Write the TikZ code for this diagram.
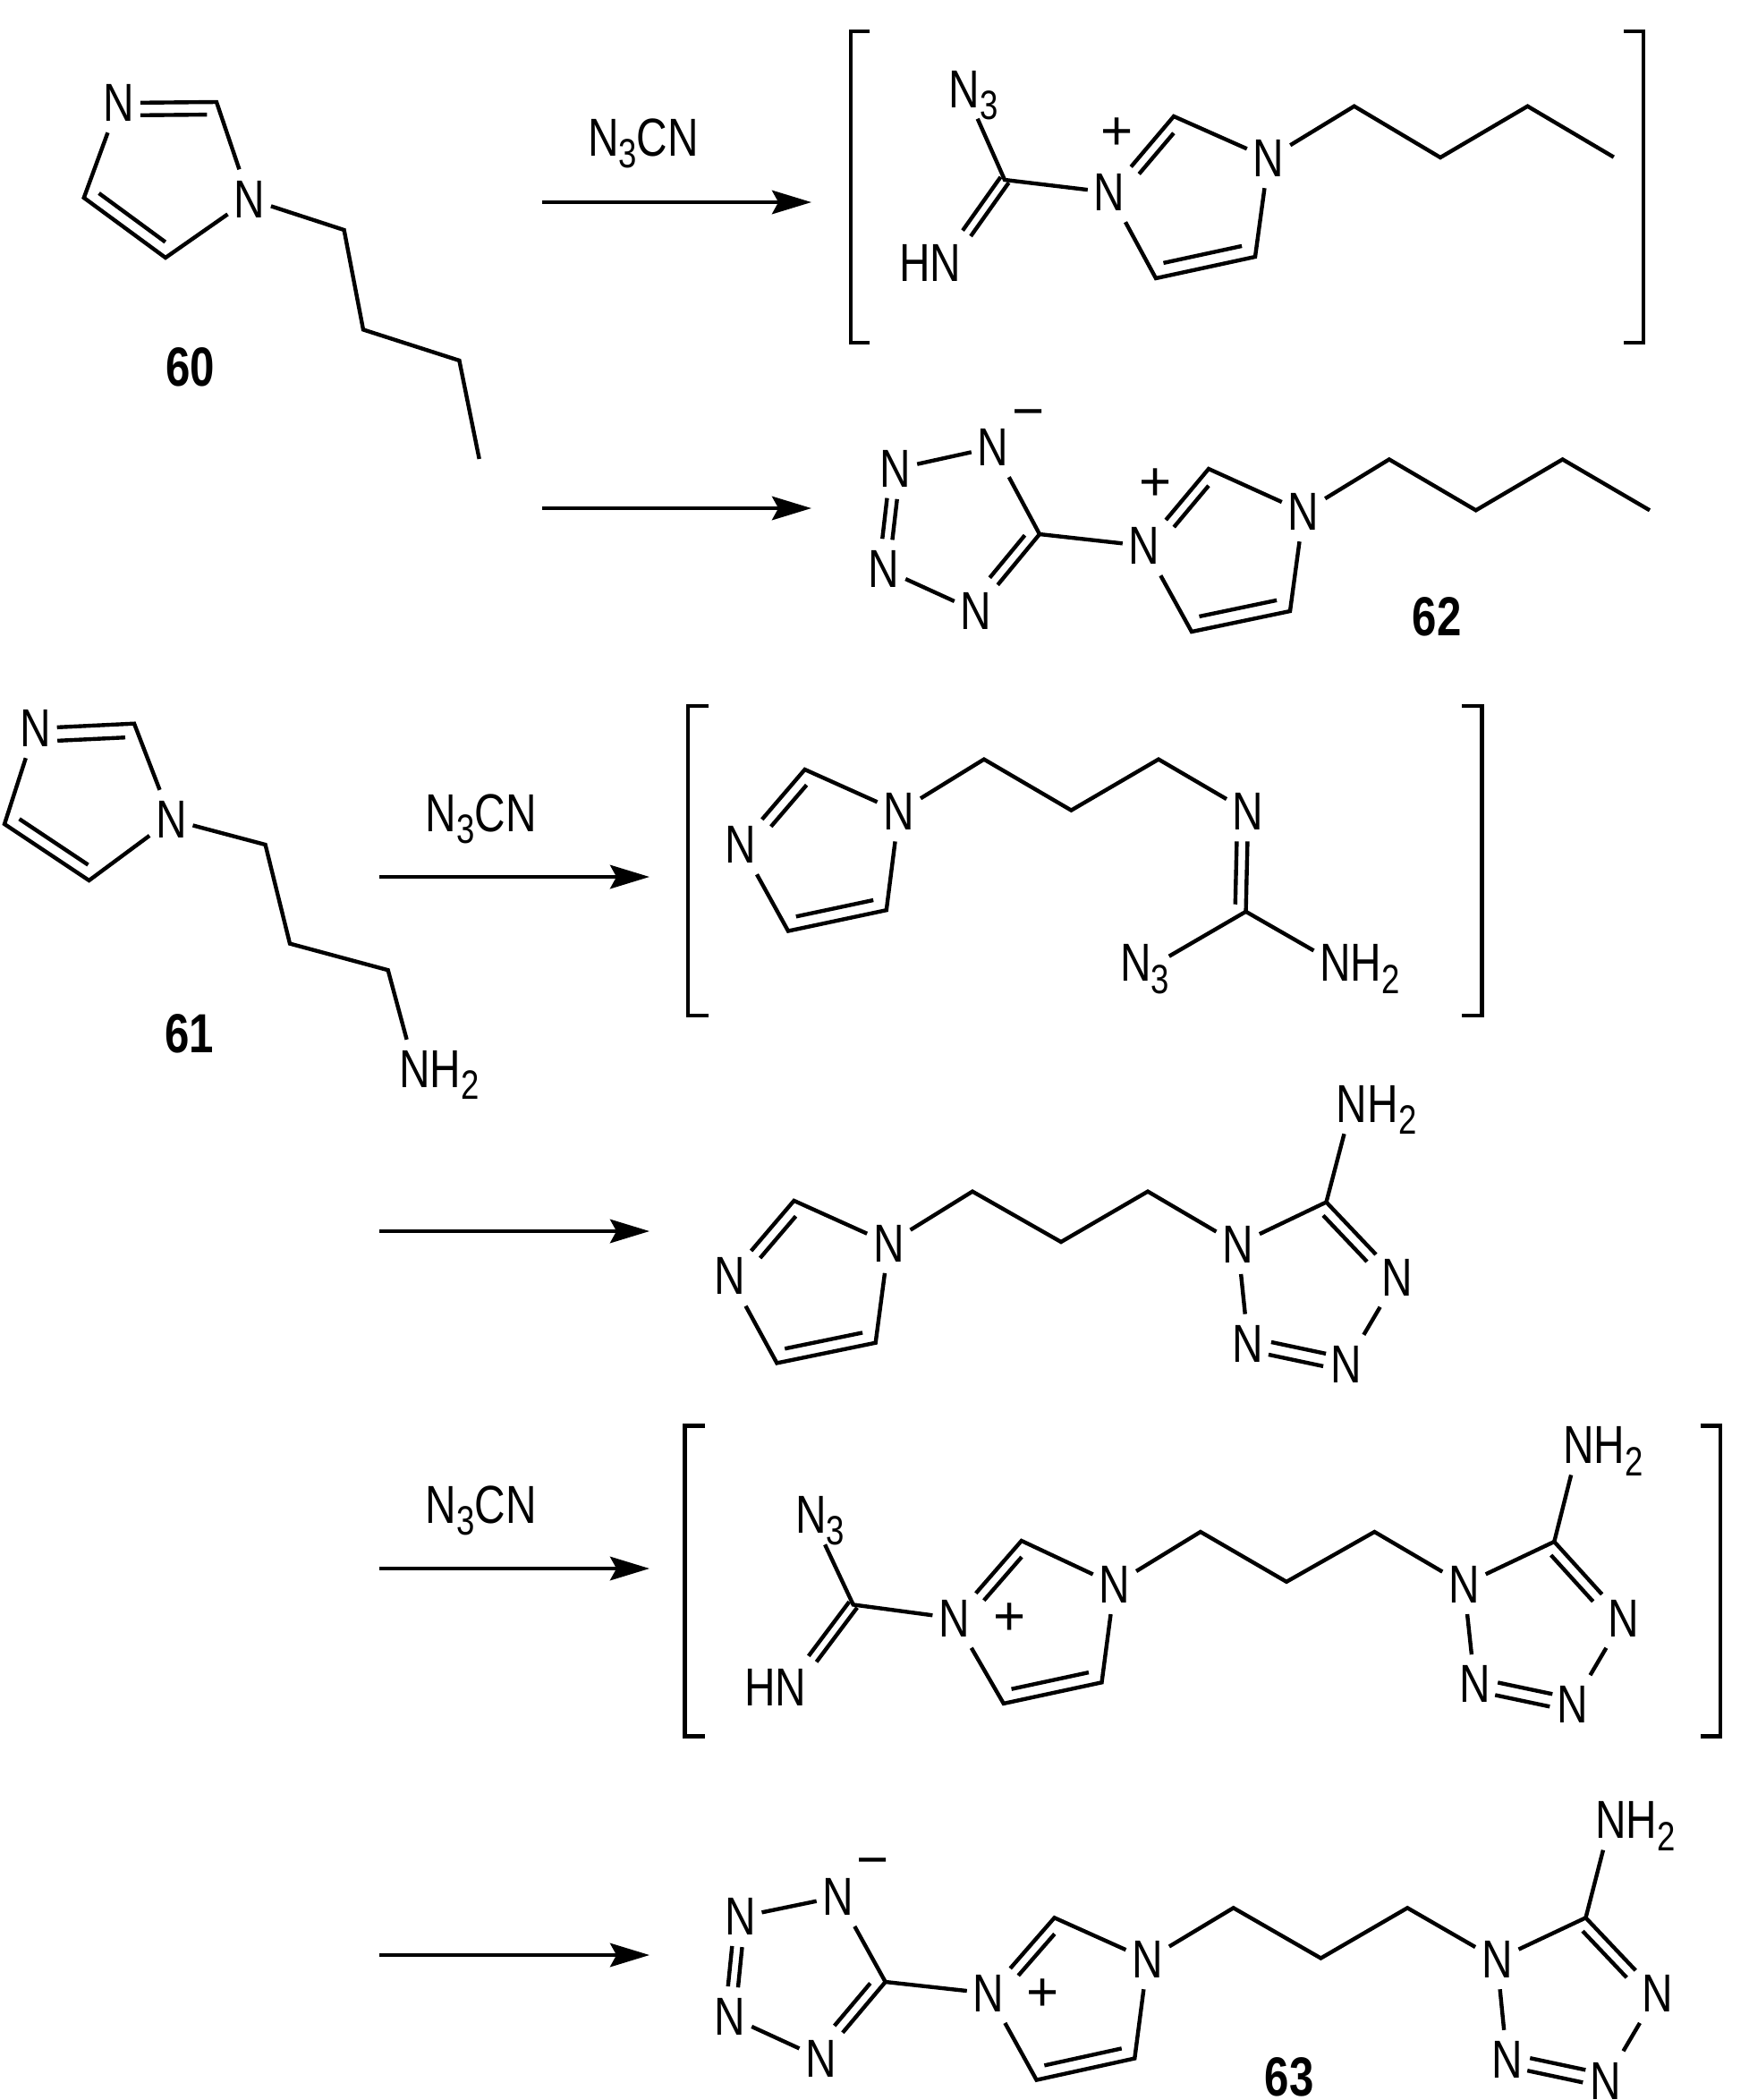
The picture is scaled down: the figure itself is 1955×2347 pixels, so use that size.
\documentclass[tikz,border=0pt]{standalone}
\usepackage{fontspec}
\setmainfont[FakeStretch=0.8]{Liberation Sans}
\newfontfamily\chgfont{Liberation Sans}
\usetikzlibrary{arrows.meta}
\newcommand{\atsub}[1]{\raisebox{-3.8pt}{\fontsize{13}{13}\selectfont #1}}
\tikzset{dbl/.style 2 args={transform canvas={shift={(#1,#2)}}}}
\tikzset{atom/.style={inner sep=0pt,minimum width=0.44cm,minimum height=0.62cm,text height=0.41cm,text depth=0pt,font=\fontsize{17}{18}\selectfont}}
\tikzset{reagent/.style={inner sep=0pt,text height=0.41cm,text depth=0pt,font=\fontsize{17}{18}\selectfont}}
\tikzset{cpd/.style={inner sep=0pt,font=\bfseries\fontsize{17.5}{18}\selectfont}}
\tikzset{chg/.style={inner sep=0pt,font=\chgfont\fontsize{17.6}{18}\selectfont}}
\begin{document}
\begin{tikzpicture}[x=0.01cm,y=-0.01cm,line width=1.25pt]
		\tikzstyle{rxn}=[-{Stealth[length=12.5pt,width=7.5pt,inset=2pt]}]
		\useasboundingbox (0,0) rectangle (1955,2347);

		% butyl imidazole
		\node[atom](an1) at (132.6,115){N};
		\coordinate(ac2) at (242,114);
		\node[atom](an3) at (278.7,222.5){N};
		\coordinate(ac4) at (185,288);
		\coordinate(ac5) at (93.8,221);
		\coordinate(ar1) at (384.6,257);
		\coordinate(ar2) at (406,368.4);
		\coordinate(ar3) at (513.4,402.9);
		\coordinate(ar4) at (535.7,512.9);
		\node[cpd](a60) at (213,410.5){60};
		\draw (an1) -- (ac2) -- (an3) -- (ac4) -- (ac5) -- (an1);
		\draw[dbl={0}{14},shorten >=3pt] (an1) -- (ac2);
		\draw[dbl={8.3}{-11.3},shorten <=3pt,shorten >=3pt] (ac5) -- (ac4);
		\draw (an3) -- (ar1) -- (ar2) -- (ar3) -- (ar4);

		\coordinate(r1a) at (606,226);
		\coordinate(r1b) at (907,226);
		\node[reagent](r1t) at (719,154){N\atsub{3}CN};
		\draw[rxn] (r1a) -- (r1b);
		\coordinate(r2a) at (606,568);
		\coordinate(r2b) at (907,568);
		\draw[rxn] (r2a) -- (r2b);

		% first intermediate
		\draw (972,35) -- (951,35) -- (951,383) -- (972,383);
		\draw (1815,35) -- (1837,35) -- (1837,383) -- (1815,383);
		\node[atom](bn) at (1078,99.5){N\rlap{\atsub{3}}};
		\coordinate(bc) at (1123,201);
		\node[atom](bh) at (1057,294){\llap{H}N};
		\node[atom](bn1) at (1240,215){N};
		\coordinate(bc2) at (1312,130);
		\node[atom](bn3) at (1418,177){N};
		\coordinate(bc4) at (1403,287);
		\coordinate(bc5) at (1292,311);
		\coordinate(br1) at (1513.7,118.7);
		\coordinate(br2) at (1610,176);
		\coordinate(br3) at (1707.5,118.7);
		\coordinate(br4) at (1803.8,175.6);
		\node[chg](bp) at (1248.5,150){+};
		\draw (bn) -- (bc) -- (bn1);
		\draw[dbl={-4.5}{-3.2}] (bc) -- (bh);
		\draw[dbl={4.5}{3.2}] (bc) -- (bh);
		\draw (bn1) -- (bc2) -- (bn3) -- (bc4) -- (bc5) -- (bn1);
		\draw[dbl={9}{8},shorten >=4pt] (bn1) -- (bc2);
		\draw[dbl={-3.2}{-14.6},shorten <=3.4pt,shorten >=3.4pt] (bc4) -- (bc5);
		\draw (bn3) -- (br1) -- (br2) -- (br3) -- (br4);

		% tetrazolate 62
		\node[atom](cm) at (1110,500){N};
		\node[chg](cq) at (1150,469){\textminus};
		\node[atom](cn2) at (1001,524){N};
		\node[atom](cn3) at (988,636){N};
		\node[atom](cn4) at (1091,683){N};
		\coordinate(cc) at (1162,597);
		\node[atom](cn1) at (1279,610){N};
		\coordinate(cc2) at (1351,524);
		\node[atom](cn5) at (1457,572){N};
		\coordinate(cc4) at (1442,683);
		\coordinate(cc5) at (1332,706);
		\coordinate(cr1) at (1552.8,513.4);
		\coordinate(cr2) at (1649.7,570.3);
		\coordinate(cr3) at (1746.6,513.4);
		\coordinate(cr4) at (1844,570.3);
		\node[chg](cp) at (1292,542){+};
		\node[cpd](c62) at (1606,689){62};
		\draw (cm) -- (cn2);
		\draw[dbl={5.6}{0.6}] (cn2) -- (cn3);
		\draw[dbl={-5.6}{-0.6}] (cn2) -- (cn3);
		\draw (cn3) -- (cn4) -- (cc) -- (cm);
		\draw[dbl={-8.9}{-8},shorten <=3.4pt] (cc) -- (cn4);
		\draw (cc) -- (cn1);
		\draw (cn1) -- (cc2) -- (cn5) -- (cc4) -- (cc5) -- (cn1);
		\draw[dbl={9}{8},shorten >=4pt] (cn1) -- (cc2);
		\draw[dbl={-3.2}{-14.6},shorten <=3.4pt,shorten >=3.4pt] (cc4) -- (cc5);
		\draw (cn5) -- (cr1) -- (cr2) -- (cr3) -- (cr4);

		% aminopropyl imidazole
		\node[atom](dn1) at (39.5,814){N};
		\coordinate(dc2) at (150,808.7);
		\node[atom](dn3) at (191.3,916){N};
		\coordinate(dc4) at (99.5,984);
		\coordinate(dc5) at (5,921);
		\coordinate(dr1) at (296.6,944);
		\coordinate(dr2) at (324,1054.6);
		\coordinate(dr3) at (433.7,1084.2);
		\node[atom](dnh) at (463.6,1195){N\rlap{H\atsub{2}}};
		\node[cpd](d61) at (212,1155.6){61};
		\draw (dn1) -- (dc2) -- (dn3) -- (dc4) -- (dc5) -- (dn1);
		\draw[dbl={0.5}{15},shorten >=3pt] (dn1) -- (dc2);
		\draw[dbl={7.8}{-11.6},shorten <=3pt,shorten >=3pt] (dc5) -- (dc4);
		\draw (dn3) -- (dr1) -- (dr2) -- (dr3) -- (dnh);

		\coordinate(r3a) at (424,980);
		\coordinate(r3b) at (726,980);
		\node[reagent](r3t) at (537.6,909){N\atsub{3}CN};
		\draw[rxn] (r3a) -- (r3b);
		\coordinate(r4a) at (424,1376);
		\coordinate(r4b) at (726,1376);
		\draw[rxn] (r4a) -- (r4b);

		% guanidine intermediate
		\draw (792,789) -- (769,789) -- (769,1135) -- (792,1135);
		\draw (1634,789) -- (1656.6,789) -- (1656.6,1135) -- (1634,1135);
		\node[atom](en1) at (827.6,944){N};
		\coordinate(ec2) at (899.6,860);
		\node[atom](en3) at (1004.8,907.2){N};
		\coordinate(ec4) at (990.8,1017.2);
		\coordinate(ec5) at (881,1040.5);
		\coordinate(er1) at (1099.9,848.6);
		\coordinate(er2) at (1197.4,905.6);
		\coordinate(er3) at (1295,848.6);
		\node[atom](en4) at (1395.2,907.2){N};
		\coordinate(ec) at (1392.6,1018.8);
		\node[atom](en5) at (1269.5,1076.3){N\rlap{\atsub{3}}};
		\node[atom](enh) at (1492.7,1076.3){N\rlap{H\atsub{2}}};
		\draw (en1) -- (ec2) -- (en3) -- (ec4) -- (ec5) -- (en1);
		\draw[dbl={10}{8},shorten >=3.5pt] (en1) -- (ec2);
		\draw[dbl={-2.9}{-13.7},shorten <=3.4pt,shorten >=3.4pt] (ec4) -- (ec5);
		\draw (en3) -- (er1) -- (er2) -- (er3) -- (en4);
		\draw (en4) -- (ec);
		\draw[dbl={-12}{0},shorten >=2.3pt] (en4) -- (ec);
		\draw[shorten >=4.3pt] (ec) -- (en5.east);
		\draw (ec) -- (enh);

		% aminotetrazole
		\node[atom](fn1) at (815.4,1426.4){N};
		\coordinate(fc2) at (887.5,1341.9);
		\node[atom](fn3) at (993.4,1389.6){N};
		\coordinate(fc4) at (978.7,1500.7);
		\coordinate(fc5) at (868.4,1523.4);
		\coordinate(fr1) at (1087,1331.6);
		\coordinate(fr2) at (1186,1388);
		\coordinate(fr3) at (1283,1331.6);
		\node[atom](ft1) at (1383.7,1390.7){N};
		\coordinate(fc) at (1482.5,1343.5);
		\node[atom](fnh) at (1511.2,1234){N\rlap{H\atsub{2}}};
		\node[atom](ft4) at (1562.2,1427.5){N};
		\node[atom](ft3) at (1504.8,1525){N};
		\node[atom](ft2) at (1395.2,1501.8){N};
		\draw (fn1) -- (fc2) -- (fn3) -- (fc4) -- (fc5) -- (fn1);
		\draw[dbl={10}{8},shorten >=3.5pt] (fn1) -- (fc2);
		\draw[dbl={-2.9}{-13.7},shorten <=3.4pt,shorten >=3.4pt] (fc4) -- (fc5);
		\draw (fn3) -- (fr1) -- (fr2) -- (fr3) -- (ft1);
		\draw (ft1) -- (fc) -- (ft4) -- (ft3);
		\draw (fc) -- (fnh);
		\draw[dbl={-10}{8},shorten <=2.7pt] (fc) -- (ft4);
		\draw (ft1) -- (ft2);
		\draw[dbl={-1.5}{7}] (ft2) -- (ft3);
		\draw[dbl={1.5}{-7}] (ft2) -- (ft3);

		\coordinate(r5a) at (424,1753);
		\coordinate(r5b) at (726,1753);
		\node[reagent](r5t) at (537.6,1682){N\atsub{3}CN};
		\draw[rxn] (r5a) -- (r5b);
		\coordinate(r6a) at (424,2185);
		\coordinate(r6b) at (726,2185);
		\draw[rxn] (r6a) -- (r6b);

		% second intermediate
		\draw (788,1593.6) -- (765.6,1593.6) -- (765.6,1940.5) -- (788,1940.5);
		\draw (1900.6,1593.6) -- (1923,1593.6) -- (1923,1940.5) -- (1900.6,1940.5);
		\node[atom](gn) at (906.5,1693){N\rlap{\atsub{3}}};
		\coordinate(gc) at (953.7,1793.4);
		\node[atom](gh) at (884,1886.3){\llap{H}N};
		\node[atom](gn1) at (1066.6,1808.5){N};
		\coordinate(gc2) at (1141.8,1722);
		\node[atom](gn3) at (1245.9,1770.8){N};
		\coordinate(gc4) at (1231.5,1880.3);
		\coordinate(gc5) at (1121.8,1903.9);
		\node[chg](gp) at (1129,1810){+};
		\coordinate(gr1) at (1341.9,1712);
		\coordinate(gr2) at (1438,1767.8);
		\coordinate(gr3) at (1536.4,1712);
		\node[atom](gt1) at (1636.5,1770.8){N};
		\coordinate(gd) at (1737.3,1723);
		\node[atom](gnh) at (1764.5,1615.2){N\rlap{H\atsub{2}}};
		\node[atom](gt4) at (1814.9,1808.5){N};
		\node[atom](gt3) at (1758,1905.4){N};
		\node[atom](gt2) at (1648.5,1882.3){N};
		\draw (gn) -- (gc) -- (gn1);
		\draw[dbl={-4.4}{-3.3}] (gc) -- (gh);
		\draw[dbl={4.4}{3.3}] (gc) -- (gh);
		\draw (gn1) -- (gc2) -- (gn3) -- (gc4) -- (gc5) -- (gn1);
		\draw[dbl={9}{8},shorten >=3.8pt] (gn1) -- (gc2);
		\draw[dbl={-2.9}{-13.7},shorten <=3.4pt,shorten >=3.4pt] (gc4) -- (gc5);
		\draw (gn3) -- (gr1) -- (gr2) -- (gr3) -- (gt1);
		\draw (gt1) -- (gd) -- (gt4) -- (gt3);
		\draw (gd) -- (gnh);
		\draw[dbl={-10}{8},shorten <=2.7pt] (gd) -- (gt4);
		\draw (gt1) -- (gt2);
		\draw[dbl={-1.5}{7}] (gt2) -- (gt3);
		\draw[dbl={1.5}{-7}] (gt2) -- (gt3);

		% bis-tetrazole 63
		\node[atom](hm) at (936.9,2119.7){N};
		\node[chg](hq) at (976,2087.6){\textminus};
		\node[atom](hn2) at (827.3,2142.3){N};
		\node[atom](hn3) at (816,2253.8){N};
		\node[atom](hn4) at (917.7,2300.5){N};
		\coordinate(hc) at (989.7,2215);
		\node[atom](hn1) at (1105,2227.7){N};
		\coordinate(hc2) at (1178.6,2143.3);
		\node[atom](hn5) at (1282.7,2190){N};
		\coordinate(hc4) at (1268.3,2300.5);
		\coordinate(hc5) at (1158.6,2324.6);
		\node[chg](hp) at (1165.7,2229.7){+};
		\coordinate(hr1) at (1378.7,2132.3);
		\coordinate(hr2) at (1476.4,2188.5);
		\coordinate(hr3) at (1573.2,2132.3);
		\node[atom](ht1) at (1673.3,2190){N};
		\coordinate(hd) at (1772.5,2143.3);
		\node[atom](hnh) at (1800.5,2034.4){N\rlap{H\atsub{2}}};
		\node[atom](ht4) at (1852.5,2227.7){N};
		\node[atom](ht3) at (1795,2325.5){N};
		\node[atom](ht2) at (1684.5,2302){N};
		\node[cpd](h63) at (1441,2321){63};
		\draw (hm) -- (hn2);
		\draw[dbl={5.6}{0.6}] (hn2) -- (hn3);
		\draw[dbl={-5.6}{-0.6}] (hn2) -- (hn3);
		\draw (hn3) -- (hn4) -- (hc) -- (hm);
		\draw[dbl={-9.2}{-7.7},shorten <=3.4pt] (hc) -- (hn4);
		\draw (hc) -- (hn1);
		\draw (hn1) -- (hc2) -- (hn5) -- (hc4) -- (hc5) -- (hn1);
		\draw[dbl={9}{8},shorten >=3.8pt] (hn1) -- (hc2);
		\draw[dbl={-2.9}{-13.7},shorten <=3.4pt,shorten >=3.4pt] (hc4) -- (hc5);
		\draw (hn5) -- (hr1) -- (hr2) -- (hr3) -- (ht1);
		\draw (ht1) -- (hd) -- (ht4) -- (ht3);
		\draw (hd) -- (hnh);
		\draw[dbl={-10}{8},shorten <=2.7pt] (hd) -- (ht4);
		\draw (ht1) -- (ht2);
		\draw[dbl={-1.5}{7}] (ht2) -- (ht3);
		\draw[dbl={1.5}{-7}] (ht2) -- (ht3);
\end{tikzpicture}
\end{document}
